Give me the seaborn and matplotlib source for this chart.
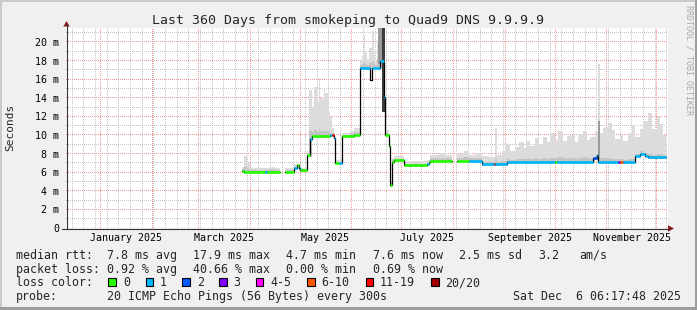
import numpy as np
import pandas as pd
import matplotlib
matplotlib.use("Agg")
import matplotlib.pyplot as plt
import matplotlib.dates as mdates
from matplotlib.patches import Rectangle, Polygon
from matplotlib.lines import Line2D
from matplotlib.ticker import MultipleLocator, FuncFormatter, NullFormatter
import seaborn as sns

W, H, DPI = 697, 310, 100

# ---------------- data ----------------
title = "Last 360 Days from smokeping to Quad9 DNS 9.9.9.9"
window_start = "2024-12-11 06:17:48"
window_end = "2025-12-06 06:17:48"

median_dates = ["2025-03-27", "2025-03-28", "2025-04-10", "2025-04-11", "2025-04-19",
                "2025-04-22", "2025-04-27", "2025-04-29", "2025-04-30", "2025-05-01",
                "2025-05-05", "2025-05-07", "2025-05-08", "2025-05-19", "2025-05-20",
                "2025-05-21", "2025-05-22", "2025-05-24", "2025-05-26", "2025-06-02",
                "2025-06-06", "2025-06-12", "2025-06-13", "2025-06-18", "2025-06-20",
                "2025-06-21", "2025-06-23", "2025-06-24", "2025-06-25", "2025-06-26",
                "2025-07-02", "2025-07-16", "2025-07-17", "2025-07-18", "2025-07-31",
                "2025-08-03", "2025-08-10", "2025-08-18", "2025-08-25", "2025-08-26",
                "2025-09-02", "2025-10-01", "2025-10-02", "2025-10-24", "2025-10-26",
                "2025-10-27", "2025-11-08", "2025-11-09", "2025-11-11", "2025-11-18",
                "2025-11-21", "2025-11-24", "2025-11-26"]
median_ms = [6.15, 6.05, 6.05, 6.05, np.nan,
             6.05, 6.5, 6.75, 6.4, 6.2,
             7.8, 9.6, 9.85, 9.95, 10.0,
             9.7, 7.0, 6.95, 9.9, 10.05,
             17.2, 15.9, 17.2, 17.9, 14.1,
             10.0, 8.8, 4.6, 7.1, 7.3,
             6.75, 6.9, 7.05, 7.25, np.nan,
             7.25, 7.25, 6.85, 6.85, 6.85,
             7.1, 7.1, 7.1, 7.5, 7.8,
             7.05, 7.05, 7.05, 7.05, 7.7,
             8.0, 7.7, 7.6]
median_loss = ["0", "0", "1", "0", "",
               "0", "1", "0", "1", "0",
               "0", "1", "0", "1", "11-19",
               "1", "0", "1", "0", "0",
               "1", "-", "1", "1", "1",
               "0", "0", "0", "0", "0",
               "0", "1", "0", "0", "",
               "0", "1", "1", "11-19", "1",
               "1", "0", "1", "2", "1",
               "1", "3", "6-10", "1", "1",
               "1", "1", "1"]

smoke_dates = ["2025-03-27", "2025-03-28", "2025-03-30", "2025-04-01", "2025-04-05",
               "2025-04-08", "2025-04-12", "2025-04-16", "2025-04-19", "2025-04-22",
               "2025-04-25", "2025-04-27", "2025-04-30", "2025-05-01", "2025-05-05",
               "2025-05-06", "2025-05-08", "2025-05-09", "2025-05-11", "2025-05-12",
               "2025-05-13", "2025-05-15", "2025-05-16", "2025-05-18", "2025-05-19",
               "2025-05-20", "2025-05-21", "2025-05-22", "2025-05-26", "2025-05-31",
               "2025-06-02", "2025-06-06", "2025-06-07", "2025-06-08", "2025-06-09",
               "2025-06-10", "2025-06-11", "2025-06-13", "2025-06-14", "2025-06-15",
               "2025-06-16", "2025-06-17", "2025-06-19", "2025-06-20", "2025-06-21",
               "2025-06-23", "2025-06-24", "2025-06-25", "2025-06-26", "2025-07-02",
               "2025-07-16", "2025-07-18", "2025-07-23", "2025-07-27", "2025-07-31",
               "2025-08-03", "2025-08-07", "2025-08-10", "2025-08-14", "2025-08-18",
               "2025-08-22", "2025-08-26", "2025-08-27", "2025-08-30", "2025-09-01",
               "2025-09-02", "2025-09-04", "2025-09-07", "2025-09-09", "2025-09-12",
               "2025-09-14", "2025-09-16", "2025-09-19", "2025-09-21", "2025-09-24",
               "2025-09-26", "2025-09-28", "2025-10-01", "2025-10-03", "2025-10-06",
               "2025-10-08", "2025-10-10", "2025-10-13", "2025-10-15", "2025-10-18",
               "2025-10-20", "2025-10-22", "2025-10-25", "2025-10-27", "2025-10-28",
               "2025-10-30", "2025-11-02", "2025-11-04", "2025-11-06", "2025-11-09",
               "2025-11-11", "2025-11-14", "2025-11-16", "2025-11-18", "2025-11-21",
               "2025-11-23", "2025-11-26", "2025-11-28", "2025-12-01", "2025-12-03",
               "2025-12-05"]
smoke_top = [6.6, 7.7, 7.0, 6.5, 6.4,
             6.5, 6.6, 6.5, np.nan, 6.5,
             6.4, 6.9, 6.6, 6.4, 8.3,
             14.8, 13.0, 15.2, 13.5, 16.1,
             14.0, 15.0, 14.5, 12.5, 12.0,
             10.8, 10.2, 7.3, 10.2, 10.4,
             10.7, 18.0, 18.5, 20.7, 19.0,
             18.2, 19.4, 21.2, 19.0, 18.0,
             20.0, 21.5, 21.5, 21.5, 10.5,
             9.0, 5.0, 7.5, 7.7, 7.2,
             7.3, 7.9, 8.1, 7.9, np.nan,
             8.0, 8.3, 7.9, 8.1, 7.7,
             7.6, 10.8, 7.8, 8.3, 8.9,
             9.0, 8.3, 8.7, 9.2, 8.6,
             9.4, 8.8, 9.7, 9.0, 9.8,
             9.2, 10.2, 9.5, 10.4, 9.4,
             9.9, 10.0, 9.2, 10.1, 10.4,
             9.5, 9.8, 10.3, 17.6, 10.2,
             10.8, 11.3, 10.5, 9.6, 10.0,
             9.4, 10.2, 11.1, 9.8, 10.6,
             11.5, 12.4, 10.6, 12.0, 11.2,
             10.0]
smoke_core = [6.3, 6.6, 6.3, 6.2, 6.2,
              6.2, 6.3, 6.2, np.nan, 6.2,
              6.2, 6.6, 6.4, 6.3, 8.0,
              10.4, 10.3, 10.5, 10.3, 10.6,
              10.4, 10.5, 10.4, 10.3, 10.2,
              10.2, 9.9, 7.1, 10.0, 10.2,
              10.3, 17.5, 17.6, 18.0, 17.6,
              17.5, 17.7, 18.0, 17.6, 17.5,
              18.2, 19.0, 21.0, 21.3, 10.2,
              8.9, 4.8, 7.3, 7.4, 6.9,
              7.0, 7.5, 7.5, 7.5, np.nan,
              7.5, 7.6, 7.5, 7.5, 7.1,
              7.1, 7.4, 7.1, 7.15, 7.2,
              7.4, 7.35, 7.4, 7.45, 7.4,
              7.5, 7.4, 7.5, 7.45, 7.55,
              7.45, 7.55, 7.5, 7.6, 7.5,
              7.55, 7.55, 7.45, 7.55, 7.6,
              7.5, 7.55, 7.8, 9.0, 7.5,
              7.5, 7.55, 7.45, 7.4, 7.4,
              7.35, 7.4, 7.45, 8.0, 8.3,
              8.05, 7.95, 7.9, 8.0, 7.95,
              7.9]

# very dense smoke (dark columns)
dense_start = ["2025-06-19 00:00"]
dense_end = ["2025-06-20 18:00"]
dense_low = [12.5]
dense_high = [21.5]
# medium-dense smoke
mid_start = ["2025-06-16 12:00", "2025-10-27 00:00"]
mid_end = ["2025-06-19 00:00", "2025-10-28 00:00"]
mid_low = [17.6, 7.9]
mid_high = [21.5, 11.5]

loss_labels = ["0", "1", "2", "3", "4-5", "6-10", "11-19", "20/20"]
loss_hex = ["#26ff00", "#00b8ff", "#0059ff", "#7e00ff", "#ff00ff", "#ff5500", "#ff0000", "#a10000"]

month_label_dates = ["2025-01-16", "2025-03-16", "2025-05-16", "2025-07-16", "2025-09-16", "2025-11-16"]
month_label_text = ["January 2025", "March 2025", "May 2025", "July 2025", "September 2025", "November 2025"]

rtt_stats = ["median rtt:", "7.8 ms avg", "17.9 ms max", "4.7 ms min", "7.6 ms now", "2.5 ms sd", "3.2", "am/s"]
loss_stats = ["packet loss:", "0.92 % avg", "40.66 % max", "0.00 % min", "0.69 % now"]
probe_text = ["probe:", "20 ICMP Echo Pings (56 Bytes) every 300s", "Sat Dec  6 06:17:48 2025"]

# ---------------- style ----------------
sns.set_style("white")
plt.rcParams["font.family"] = ["DejaVu Sans Mono"]
MONO = "DejaVu Sans Mono"

fig = plt.figure(figsize=(W / DPI, H / DPI), dpi=DPI, facecolor="#f0f0f0")


def fx(x):
    return x / W


def fy(y):
    return 1 - y / H


AX_L, AX_B, AX_W, AX_H = 66, 82, 602, 200   # pixel box of the graph canvas
ax = fig.add_axes([AX_L / W, AX_B / H, AX_W / W, AX_H / H])
ax.set_facecolor("none")
for s in ax.spines.values():
    s.set_visible(False)

loss_colors = dict(zip(loss_labels, loss_hex))
t0 = pd.Timestamp(window_start)
t_end = pd.Timestamp(window_end)

# median table
med = pd.DataFrame({"date": pd.to_datetime(median_dates), "ms": median_ms, "loss": median_loss})
med["next"] = list(med["date"].iloc[1:]) + [t_end]
med["seg"] = med["ms"].isna().cumsum()
valid = med.dropna(subset=["ms"])

line_rows = []
for s, g in valid.groupby("seg"):
    for _, r in g.iterrows():
        line_rows.append((s, r["date"], r["ms"]))
    last = g.iloc[-1]
    line_rows.append((s, last["next"], last["ms"]))
line_df = pd.DataFrame(line_rows, columns=["seg", "date", "ms"])

sns.lineplot(data=line_df, x="date", y="ms", units="seg", estimator=None, sort=False,
             drawstyle="steps-post", color="black", lw=0.9, ax=ax, legend=False, zorder=4)

# smoke
sm = pd.DataFrame({"date": pd.to_datetime(smoke_dates), "top": smoke_top, "core": smoke_core})
sm["next"] = list(sm["date"].iloc[1:]) + [t_end]
base = pd.merge_asof(sm[["date"]], med[["date", "ms"]], on="date")["ms"].to_numpy() - 0.15
x0 = mdates.date2num(sm["date"].to_numpy())
wd = mdates.date2num(sm["next"].to_numpy()) - x0
top = sm["top"].to_numpy()
core = sm["core"].to_numpy()
ax.bar(x0, top - base, bottom=base, width=wd, align="edge", color="#dcdcdc", lw=0, zorder=2)
ax.bar(x0, core - base, bottom=base, width=wd, align="edge", color="#c4c4c4", lw=0, zorder=2.5)

ms0 = mdates.date2num(pd.to_datetime(mid_start).to_numpy())
ms1 = mdates.date2num(pd.to_datetime(mid_end).to_numpy())
ax.bar(ms0, np.array(mid_high) - np.array(mid_low), bottom=mid_low, width=ms1 - ms0,
       align="edge", color="#9a9a9a", lw=0, zorder=2.7)
ds0 = mdates.date2num(pd.to_datetime(dense_start).to_numpy())
ds1 = mdates.date2num(pd.to_datetime(dense_end).to_numpy())
ax.bar(ds0, np.array(dense_high) - np.array(dense_low), bottom=dense_low, width=ds1 - ds0,
       align="edge", color="#3c3c3c", lw=0, zorder=2.8)

# coloured median segments
col = valid[valid["loss"].isin(loss_labels)]
ax.hlines(col["ms"].to_numpy(), mdates.date2num(col["date"].to_numpy()),
          mdates.date2num(col["next"].to_numpy()),
          colors=[loss_colors[l] for l in col["loss"]], lw=1.9, zorder=5)

# axes limits / ticks
ax.set_xlim(mdates.date2num(t0), mdates.date2num(t_end) + 1.5)
ax.set_ylim(0, 21.5)
ax.xaxis.set_major_locator(mdates.MonthLocator())
ax.xaxis.set_minor_locator(mdates.WeekdayLocator(byweekday=mdates.SU))
ax.xaxis.set_major_formatter(NullFormatter())
ax.xaxis.set_minor_formatter(NullFormatter())
ax.yaxis.set_major_locator(MultipleLocator(2))
ax.yaxis.set_minor_locator(MultipleLocator(1))
ax.yaxis.set_major_formatter(FuncFormatter(lambda v, _: "0" if abs(v) < 1e-9 else f"{v:.0f} m"))
ax.grid(False)
ax.set_xlabel("")
ax.set_ylabel("")
ax.tick_params(axis="y", which="major", length=2.5, width=0.7, color="#333333", pad=2.2,
               labelsize=7.2, direction="out", labelcolor="black")
ax.tick_params(axis="y", which="minor", length=0)
ax.tick_params(axis="x", which="both", length=1.5, width=0.6, color="#333333", direction="out")
for lab in ax.get_yticklabels():
    lab.set_family(MONO)

# dotted rrdtool-style grid, rendered pixel-exact on the white canvas
trans = ax.transData
canvas = np.full((AX_H, AX_W, 3), 255, dtype=np.uint8)
gray_dot = np.array([196, 196, 196], dtype=np.uint8)
red_dot = np.array([242, 150, 150], dtype=np.uint8)


def col_of(xv):
    return int(np.floor(trans.transform((xv, 0))[0])) - AX_L


def row_of(yv):
    k = int(np.floor(trans.transform((mdates.date2num(t0), yv))[1]))
    return (AX_B + AX_H - 1) - k


ylo, yhi = ax.get_ylim()
for yv in ax.get_yticks(minor=True):
    r = row_of(yv)
    if ylo < yv < yhi and 0 <= r < AX_H:
        canvas[r, ::2] = gray_dot
for xv in ax.get_xticks(minor=True):
    c = col_of(xv)
    if 0 <= c < AX_W:
        canvas[1::2, c] = gray_dot
for yv in ax.get_yticks():
    r = row_of(yv)
    if ylo < yv < yhi and 0 <= r < AX_H:
        canvas[r, ::2] = red_dot
for xv in ax.get_xticks():
    c = col_of(xv)
    if 0 <= c < AX_W:
        canvas[1::2, c] = red_dot
fig.figimage(canvas, xo=AX_L, yo=AX_B, origin="upper", zorder=-1)

for d, t in zip(month_label_dates, month_label_text):
    ax.text(mdates.date2num(pd.Timestamp(d)), -13 / 200, t, transform=ax.get_xaxis_transform(),
            ha="center", va="baseline", fontsize=7.2, family=MONO, color="black")

# axis lines and arrows
fig.add_artist(Line2D([fx(66.5), fx(66.5)], [fy(228.5), fy(24)], color="#333333", lw=0.8))
fig.add_artist(Line2D([fx(62), fx(669)], [fy(228.5), fy(228.5)], color="#333333", lw=0.8))
fig.add_artist(Polygon([[fx(63.3), fy(26.5)], [fx(69.7), fy(26.5)], [fx(66.5), fy(21)]],
                       closed=True, transform=fig.transFigure, color="#8b1a1a", lw=0))
fig.add_artist(Polygon([[fx(668), fy(225.3)], [fx(668), fy(231.7)], [fx(674), fy(228.5)]],
                       closed=True, transform=fig.transFigure, color="#8b1a1a", lw=0))

# texts
fig.text(fx(348), fy(24), title, ha="center", va="baseline", fontsize=9.5, family=MONO)
fig.text(fx(10), fy(127.5), "Seconds", rotation=90, ha="center", va="center", fontsize=8.0, family=MONO)
fig.text(fx(689), fy(5), "RRDTOOL / TOBI OETIKER", rotation=270, ha="center", va="top",
         fontsize=6.0, family=MONO, color="#a8a8a8")

LEG = 8.4
row_y = [259, 272.7, 286.4, 300]
rtt_x = [16, 107.3, 192.7, 286, 372.7, 459.3, 538.3, 579.3]
for s, x in zip(rtt_stats, rtt_x):
    fig.text(fx(x), fy(row_y[0]), s, ha="left", va="baseline", fontsize=LEG, family=MONO)
for s, x in zip(loss_stats, rtt_x):
    fig.text(fx(x), fy(row_y[1]), s, ha="left", va="baseline", fontsize=LEG, family=MONO)
fig.text(fx(16), fy(row_y[2]), "loss color:", ha="left", va="baseline", fontsize=LEG, family=MONO)
sw_x = [108.3, 145.7, 182.3, 219, 255.7, 307.3, 365.7, 431]
lab_x = [123, 160, 196.7, 233.3, 270, 321.7, 380, 445]
for lbl, c, sx, lx in zip(loss_labels, loss_hex, sw_x, lab_x):
    fig.add_artist(Rectangle((fx(sx), fy(286)), 7.5 / W, 8 / H, transform=fig.transFigure,
                             facecolor=c, edgecolor="black", lw=0.8))
    fig.text(fx(lx), fy(row_y[2]), lbl, ha="left", va="baseline", fontsize=LEG, family=MONO)
for s, x in zip(probe_text, [16, 107.3, 513.3]):
    fig.text(fx(x), fy(row_y[3]), s, ha="left", va="baseline", fontsize=LEG, family=MONO)

# 3D-ish border
fig.add_artist(Rectangle((0, fy(2)), 1, 2 / H, transform=fig.transFigure, color="#cacaca", lw=0))
fig.add_artist(Rectangle((0, 0), 2 / W, 1, transform=fig.transFigure, color="#cacaca", lw=0))
fig.add_artist(Rectangle((0, 0), 1, 3 / H, transform=fig.transFigure, color="#9e9e9e", lw=0))
fig.add_artist(Rectangle((fx(W - 2), 0), 2 / W, 1, transform=fig.transFigure, color="#9e9e9e", lw=0))

fig.savefig("out.png", dpi=DPI, facecolor=fig.get_facecolor())
